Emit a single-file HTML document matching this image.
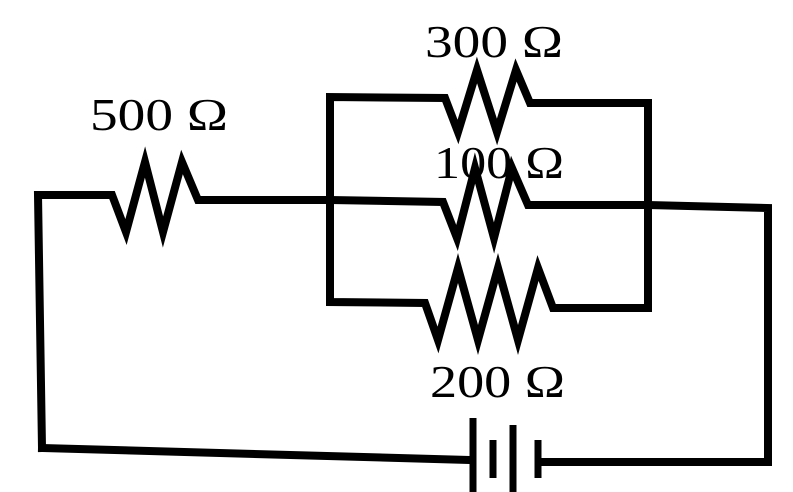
<!DOCTYPE html>
<html><head><style>body{margin:0;background:#fff}svg{display:block}</style></head><body>
<svg width="793" height="492" viewBox="0 0 793 492" xmlns="http://www.w3.org/2000/svg">
<g fill="none" stroke="#000" stroke-width="8" stroke-linejoin="miter" stroke-linecap="square">
<polyline points="42,448 38,195 112,195 126,232 145,162 163,232 182,162 198,200 330,200 443,202 457,238 475,168 494,238 512,168 528,205 648,205 768,208 768,462 540,462"/>
<polyline points="42,448 470,460"/>
<polyline points="330,200 330,97 445,98 458,132 477,70 497,132 516,70 530,103 648,103 648,205"/>
<polyline points="330,200 330,302 425,303 438,340 458,268 478,340 498,268 518,340 538,268 553,308 648,308 648,205"/>
</g>
<g stroke="#000" stroke-width="7">
<line x1="473" y1="418" x2="473" y2="492"/>
<line x1="493" y1="440" x2="493" y2="478"/>
<line x1="513" y1="425" x2="513" y2="492"/>
<line x1="538" y1="440" x2="538" y2="478"/>
</g>
<g font-family="Liberation Serif, serif" font-size="46" fill="#000" lengthAdjust="spacingAndGlyphs">
<text x="425" y="57" textLength="138" lengthAdjust="spacingAndGlyphs">300 Ω</text>
<text x="90" y="130" textLength="138" lengthAdjust="spacingAndGlyphs">500 Ω</text>
<text x="434" y="178" textLength="130" lengthAdjust="spacingAndGlyphs">100 Ω</text>
<text x="430" y="397" textLength="135" lengthAdjust="spacingAndGlyphs">200 Ω</text>
</g>
</svg>
</body></html>
